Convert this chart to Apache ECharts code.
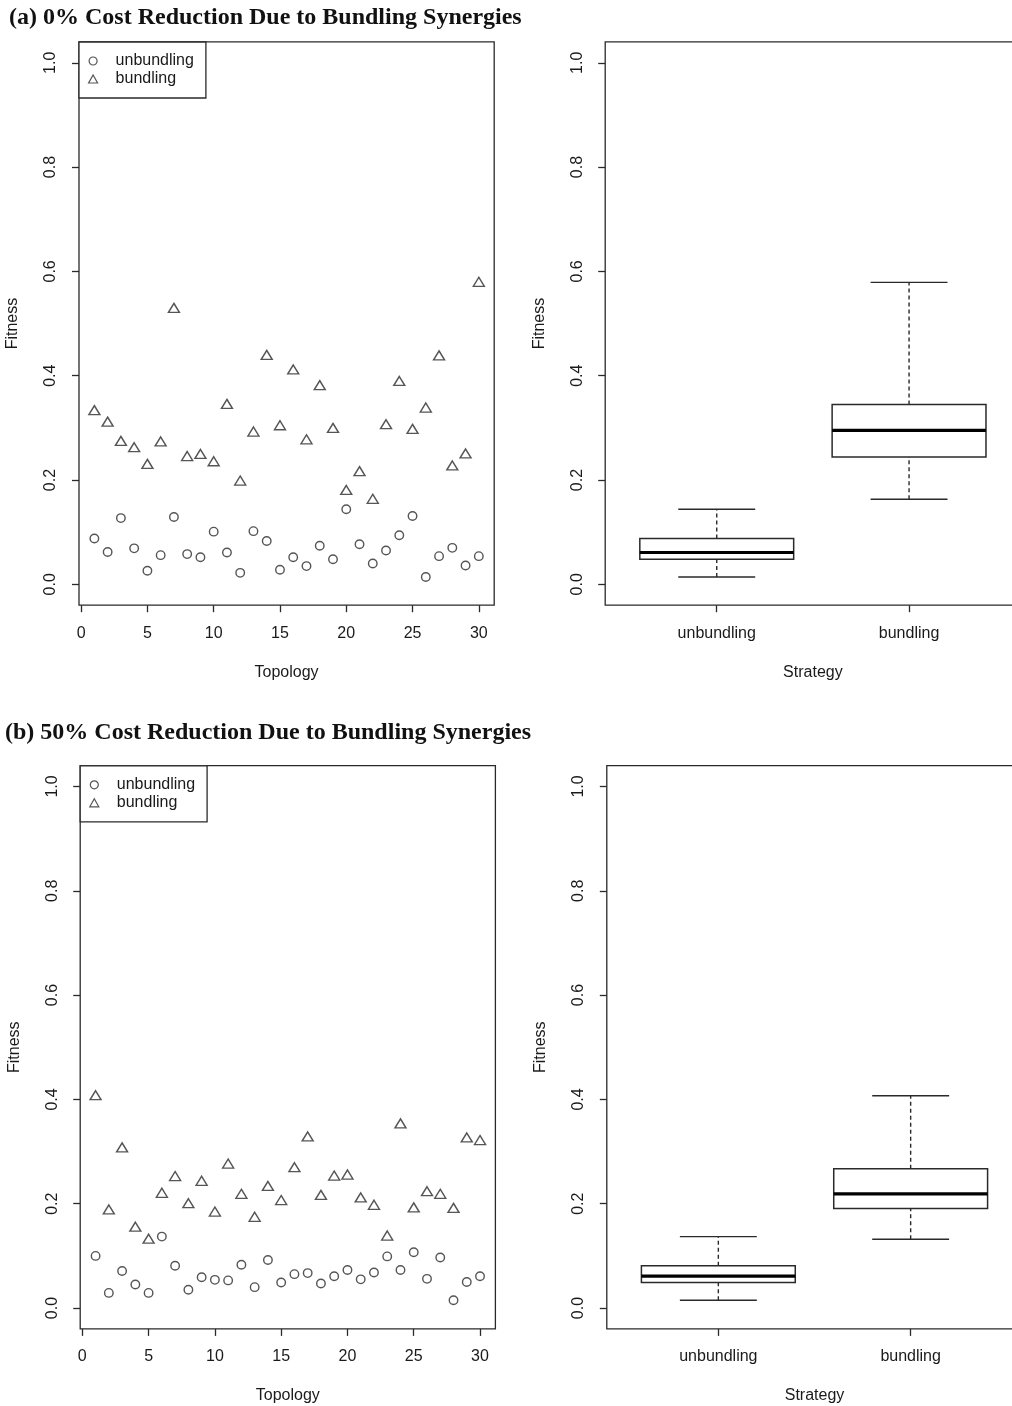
<!DOCTYPE html>
<html><head><meta charset="utf-8">
<script src="https://cdn.jsdelivr.net/npm/echarts@6/dist/echarts.min.js"></script>
<style>html,body{margin:0;padding:0;background:#fff}#c{width:1012px;height:1406px}</style>
</head><body><div id="c"></div>
<script>
const topology = [1,2,3,4,5,6,7,8,9,10,11,12,13,14,15,16,17,18,19,20,21,22,23,24,25,26,27,28,29,30];
const unbundlingA = [0.088,0.062,0.127,0.069,0.026,0.056,0.129,0.058,0.052,0.101,0.061,0.022,0.102,0.083,0.028,0.052,0.035,0.074,0.048,0.144,0.077,0.040,0.065,0.094,0.131,0.014,0.054,0.070,0.036,0.054];
const bundlingA = [0.334,0.312,0.275,0.263,0.231,0.274,0.530,0.246,0.250,0.236,0.346,0.199,0.293,0.440,0.305,0.412,0.278,0.382,0.300,0.181,0.217,0.164,0.307,0.390,0.298,0.339,0.439,0.228,0.251,0.580];
const unbundlingB = [0.100,0.029,0.071,0.045,0.029,0.137,0.081,0.035,0.059,0.054,0.053,0.083,0.040,0.092,0.049,0.065,0.067,0.047,0.061,0.073,0.055,0.068,0.099,0.073,0.107,0.056,0.097,0.015,0.050,0.061];
const bundlingB = [0.408,0.189,0.308,0.156,0.133,0.221,0.253,0.201,0.244,0.185,0.277,0.219,0.175,0.234,0.207,0.270,0.329,0.217,0.254,0.256,0.212,0.198,0.139,0.354,0.193,0.224,0.219,0.192,0.327,0.322];
const strategies = ['unbundling','bundling'];
// box statistics: [min, Q1, median, Q3, max]
const boxA = [[0.014,0.048,0.061,0.088,0.144],[0.163,0.244,0.295,0.345,0.579]];
const boxB = [[0.015,0.049,0.061,0.081,0.137],[0.132,0.191,0.219,0.267,0.407]];
const fitnessTicks = [0,0.2,0.4,0.6,0.8,1.0];
const topologyTicks = [0,5,10,15,20,25,30];
const strategyTicks = [1,2];
const titles = ['(a) 0% Cost Reduction Due to Bundling Synergies','(b) 50% Cost Reduction Due to Bundling Synergies'];

const SANS = 'Liberation Sans, Arial, Helvetica, sans-serif';
const INK = '#1a1a1a';
const LINE = '#2a2a2a';

const grids = [
  {left:79, top:41.9, width:415.2, height:563.3},
  {left:605.2, top:41.9, width:415.4, height:563.3},
  {left:80.2, top:765.6, width:415.2, height:563.3},
  {left:606.8, top:765.6, width:415.4, height:563.3}
].map(g => Object.assign(g, {show:true, borderColor:LINE, borderWidth:1.3, backgroundColor:'transparent', containLabel:false, outerBoundsMode:'none'}));

const tickStyle = {color:LINE, width:1.3};
function yAx(gi){
  return {type:'value', gridIndex:gi, min:-0.04, max:1.04,
    splitLine:{show:false}, axisLine:{show:false, onZero:false},
    axisTick:{show:true, inside:false, length:7, customValues:fitnessTicks, lineStyle:tickStyle},
    axisLabel:{customValues:fitnessTicks, rotate:90, margin:20, fontSize:16, color:INK, fontFamily:SANS, formatter:v=>v.toFixed(1)},
    name:'Fitness', nameLocation:'middle', nameGap:58, nameRotate:90,
    nameTextStyle:{fontSize:16, color:INK, fontFamily:SANS}};
}
function xTopo(gi){
  return {type:'value', gridIndex:gi, min:-0.16, max:31.16,
    splitLine:{show:false}, axisLine:{show:false, onZero:false},
    axisTick:{show:true, inside:false, length:7, customValues:topologyTicks, lineStyle:tickStyle},
    axisLabel:{customValues:topologyTicks, margin:20, fontSize:16, color:INK, fontFamily:SANS},
    name:'Topology', nameLocation:'middle', nameGap:59,
    nameTextStyle:{fontSize:16, color:INK, fontFamily:SANS}};
}
function xStrat(gi){
  return {type:'value', gridIndex:gi, min:0.42, max:2.58,
    splitLine:{show:false}, axisLine:{show:false, onZero:false},
    axisTick:{show:true, inside:false, length:7, customValues:strategyTicks, lineStyle:tickStyle},
    axisLabel:{customValues:strategyTicks, margin:20, fontSize:16, color:INK, fontFamily:SANS, formatter:v=>strategies[Math.round(v)-1]},
    name:'Strategy', nameLocation:'middle', nameGap:59,
    nameTextStyle:{fontSize:16, color:INK, fontFamily:SANS}};
}

const ptStyle = {color:'rgba(0,0,0,0)', borderColor:LINE, borderWidth:1.4};
function scatter(name, gi, vals, symbol, size){
  return {type:'scatter', name, xAxisIndex:gi, yAxisIndex:gi, symbol, symbolSize:size,
    data: topology.map((t,i)=>[t, vals[i]]), itemStyle:ptStyle, silent:true, emphasis:{disabled:true}};
}

function renderBox(params, api){
  const x = api.value(0);
  const c = v => api.coord([x, v]);
  const pMin = c(api.value(1)), pQ1 = c(api.value(2)), pMd = c(api.value(3)), pQ3 = c(api.value(4)), pMx = c(api.value(5));
  const half = api.size([0.4, 0])[0];
  const sh = half/2;
  const cx = pMd[0];
  const st = {stroke:LINE, lineWidth:1.4};
  const dash = {stroke:LINE, lineWidth:1.4, lineDash:[4,3]};
  return {type:'group', children:[
    {type:'line', shape:{x1:cx,y1:pQ3[1],x2:cx,y2:pMx[1]}, style:dash},
    {type:'line', shape:{x1:cx,y1:pMin[1],x2:cx,y2:pQ1[1]}, style:dash},
    {type:'line', shape:{x1:cx-sh,y1:pMx[1],x2:cx+sh,y2:pMx[1]}, style:st},
    {type:'line', shape:{x1:cx-sh,y1:pMin[1],x2:cx+sh,y2:pMin[1]}, style:st},
    {type:'rect', shape:{x:cx-half,y:pQ3[1],width:2*half,height:pQ1[1]-pQ3[1]}, style:{fill:'#fff', stroke:LINE, lineWidth:1.5}},
    {type:'line', shape:{x1:cx-half,y1:pMd[1],x2:cx+half,y2:pMd[1]}, style:{stroke:'#000', lineWidth:3.2}}
  ]};
}
function boxSeries(gi, stats){
  return {type:'custom', xAxisIndex:gi, yAxisIndex:gi, renderItem:renderBox, silent:true,
    encode:{x:0, y:[1,2,3,4,5]}, data: stats.map((s,i)=>[strategyTicks[i], ...s])};
}

function legendAt(left, top){
  return {left, top, orient:'vertical', data:['unbundling','bundling'],
    itemWidth:9, itemHeight:8, itemGap:0, padding:[10,12,10,9],
    borderColor:LINE, borderWidth:1.3, backgroundColor:'#fff', selectedMode:false,
    itemStyle:{borderWidth:1.2},
    textStyle:{fontSize:16, color:INK, fontFamily:SANS, lineHeight:18, padding:[0,0,0,13]}};
}

const chart = echarts.init(document.getElementById('c'), null, {renderer:'canvas'});
const titleStyle = {fontFamily:'Liberation Serif, Times New Roman, serif', fontWeight:'bold', fontSize:24, color:'#111'};
chart.setOption({
  animation:false,
  backgroundColor:'#fff',
  title:[
    {text:titles[0], left:9, top:6, padding:0, textStyle:titleStyle},
    {text:titles[1], left:5, top:721, padding:0, textStyle:titleStyle}
  ],
  legend:[legendAt(79,42), legendAt(80.2,765.8)],
  grid:grids,
  xAxis:[xTopo(0), xStrat(1), xTopo(2), xStrat(3)],
  yAxis:[yAx(0), yAx(1), yAx(2), yAx(3)],
  series:[
    scatter('unbundling',0,unbundlingA,'circle',8.5),
    scatter('bundling',0,bundlingA,'triangle',[11,9]),
    boxSeries(1, boxA),
    scatter('unbundling',2,unbundlingB,'circle',8.5),
    scatter('bundling',2,bundlingB,'triangle',[11,9]),
    boxSeries(3, boxB)
  ]
});
</script></body></html>
